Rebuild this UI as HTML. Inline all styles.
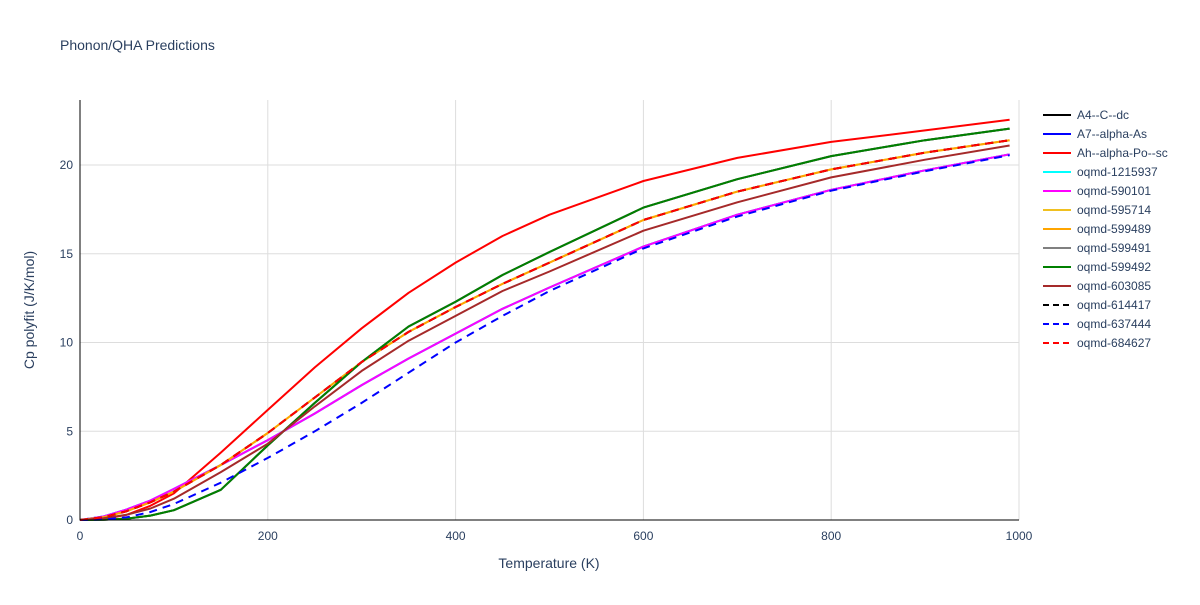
<!DOCTYPE html>
<html><head><meta charset="utf-8"><style>
body{margin:0;background:#fff;font-family:"Liberation Sans",sans-serif;}
svg text{font-family:"Liberation Sans",sans-serif;fill:#2a3f5f;}
</style></head><body>
<svg id="c" width="1200" height="600">
<text x="60" y="50" font-size="14">Phonon/QHA Predictions</text>
<g id="grid"></g><g id="series"></g><g id="axes"></g><g id="legend"></g>
<text x="549" y="568" font-size="14" text-anchor="middle">Temperature (K)</text>
<text transform="translate(34,310) rotate(-90)" font-size="14" text-anchor="middle">Cp polyfit (J/K/mol)</text>
</svg>
<script>
const temps=[0,25,50,75,100,150,200,250,300,350,400,450,500,600,700,800,900,990];
const cpAh=[0,0.05,0.3,0.8,1.5,3.8,6.2,8.6,10.8,12.8,14.5,16.0,17.2,19.1,20.4,21.3,21.95,22.55];
const cpGreen=[0,0.01,0.08,0.25,0.55,1.7,4.2,6.6,8.9,10.9,12.3,13.8,15.1,17.6,19.2,20.5,21.4,22.05];
const cpYellow=[0,0.15,0.5,1.0,1.6,3.1,4.9,6.9,8.9,10.6,12.0,13.3,14.5,16.9,18.5,19.75,20.7,21.4];
const cpBrown=[0,0.1,0.3,0.65,1.2,2.7,4.3,6.4,8.4,10.1,11.5,12.9,14.0,16.3,17.9,19.3,20.3,21.1];
const cpMagenta=[0,0.2,0.6,1.1,1.75,3.1,4.5,6.0,7.6,9.1,10.5,11.9,13.1,15.4,17.2,18.6,19.7,20.6];
const cpBlueDash=[0,0.03,0.15,0.45,0.9,2.1,3.5,5.0,6.6,8.3,10.0,11.5,12.9,15.3,17.1,18.55,19.65,20.55];
const xTicks=[0,200,400,600,800,1000];
const yTicks=[0,5,10,15,20];
const series=[
["A4--C--dc",cpGreen,"#000",""],["A7--alpha-As",cpMagenta,"#0000ff",""],["Ah--alpha-Po--sc",cpAh,"#ff0000",""],
["oqmd-1215937",cpMagenta,"#00ffff",""],["oqmd-590101",cpMagenta,"#ff00ff",""],["oqmd-595714",cpYellow,"#f0c020",""],
["oqmd-599489",cpYellow,"#ffa500",""],["oqmd-599491",cpGreen,"#808080",""],["oqmd-599492",cpGreen,"#008000",""],
["oqmd-603085",cpBrown,"#a52a2a",""],["oqmd-614417",cpYellow,"#000","8,6"],["oqmd-637444",cpBlueDash,"#0000ff","8,6"],
["oqmd-684627",cpYellow,"#ff0000","8,6"]];
const X=t=>80+t*0.939, Y=v=>520-v*17.75;
const NS="http://www.w3.org/2000/svg";
function mk(tag,at,parent){const e=document.createElementNS(NS,tag);for(const k in at)e.setAttribute(k,at[k]);document.getElementById(parent).appendChild(e);return e;}
xTicks.forEach(t=>{
 if(t>0){const g=mk('line',{x1:X(t),x2:X(t),y1:100,y2:520,stroke:'#ddd'},'grid');
 
 }
 const l=mk('text',{x:X(t),y:540,'font-size':12,'text-anchor':'middle'},'axes');l.textContent=t;
 
 
});
yTicks.forEach(v=>{
 if(v>0){const g=mk('line',{x1:80,x2:1019,y1:Y(v),y2:Y(v),stroke:'#ddd'},'grid');
 
 }
 const l=mk('text',{x:73,y:Y(v)+4,'font-size':12,'text-anchor':'end'},'axes');l.textContent=v;
 
 
});
const ax=mk('path',{d:'M80,100V520H1019',stroke:'#000',fill:'none','stroke-width':1},'axes');


series.forEach((s,i)=>{
 const d=temps.map((t,j)=>(j?'L':'M')+X(t).toFixed(1)+','+Y(s[1][j]).toFixed(1)).join('');
 const p=mk('path',{d:d,stroke:s[2],fill:'none','stroke-width':2,'stroke-dasharray':s[3]||'none','stroke-linejoin':'round'},'series');
 
 
 const y=115+i*19;
 const ll=mk('line',{x1:1043,x2:1071,y1:y,y2:y,stroke:s[2],'stroke-width':2,'stroke-dasharray':s[3]?'6,4':'none'},'legend');
 
 
 const lt=mk('text',{x:1077,y:y+4,'font-size':12},'legend');lt.textContent=s[0];
 
 
});
</script>
</body></html>
